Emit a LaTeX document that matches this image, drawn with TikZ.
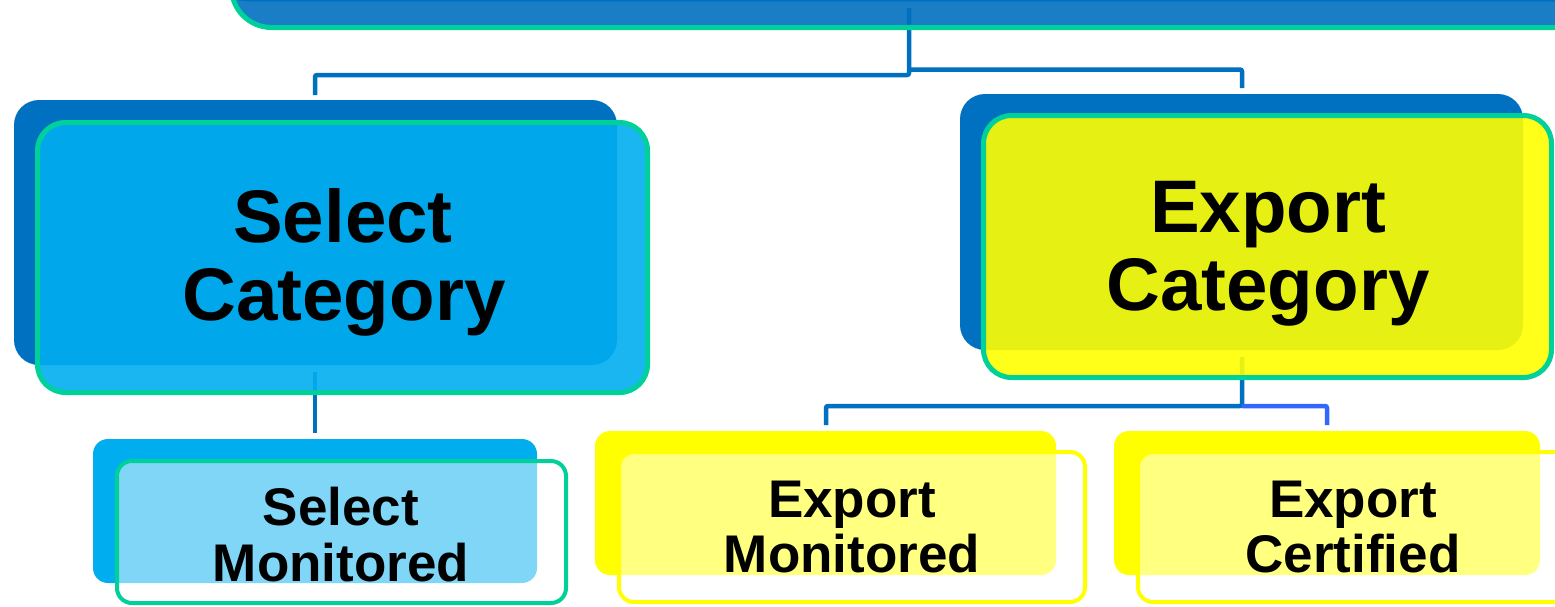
\documentclass[tikz,border=0pt]{standalone}
\usepackage{fontspec}
\setmainfont{Liberation Sans}
\definecolor{dblue}{HTML}{0070C0}
\definecolor{cyanc}{HTML}{00AEEF}
\definecolor{gborder}{RGB}{0,208,154}
\definecolor{yel}{HTML}{FFFF00}
\definecolor{bblue}{HTML}{3366FF}
\tikzset{
  box/.style={rectangle, inner sep=0pt, outer sep=0pt, anchor=north west},
  backbox/.style={box, fill=#1, draw=none},
  frontbox/.style={box, fill=#1, fill opacity=0.9},
  lightbox/.style={box, fill=white, fill opacity=0.5, line width=4pt},
  conn/.style={draw=dblue, line width=4.5pt, rounded corners=2pt},
  bigtxt/.style={anchor=base, font=\bfseries\fontsize{74.5}{78}\selectfont, text=black},
  smalltxt/.style={anchor=base, font=\bfseries\fontsize{53}{56}\selectfont, text=black},
}
\begin{document}
\begin{tikzpicture}[x=1pt,y=-1pt]
\useasboundingbox (0,0) rectangle (1555,606);
\clip (0,0) rectangle (1555,606);
% back boxes
\node[backbox=dblue, minimum width=1500pt, minimum height=301.5pt, rounded corners=40pt] (topb) at (208,-300) {};
\node[backbox=dblue, minimum width=603pt, minimum height=265pt, rounded corners=25pt] (scb) at (14,100) {};
\node[backbox=dblue, minimum width=563pt, minimum height=256pt, rounded corners=25pt] (ecb) at (960,94) {};
\node[backbox=cyanc, minimum width=444pt, minimum height=144pt, rounded corners=15pt] (smb) at (93,439) {};
\node[backbox=yel, minimum width=461pt, minimum height=144pt, rounded corners=15pt] (emb) at (595,431) {};
\node[backbox=yel, minimum width=426pt, minimum height=144pt, rounded corners=15pt] (ecfb) at (1114,431) {};
% connectors
\coordinate (j0) at (909,8);
\coordinate (jl) at (315,95);
\coordinate (jr) at (1242,88);
\coordinate (k0) at (315,372);
\coordinate (k1) at (315,433);
\coordinate (m0) at (1242,357);
\coordinate (ml) at (826,425);
\coordinate (mr) at (1327,425);
\draw[conn] (j0) -- (909,75) -- (315,75) -- (jl);
\draw[conn] (909,69.5) -- (1242,69.5) -- (jr);
\draw[conn] (k0) -- (k1);
\draw[conn] (m0) -- (1242,406) -- (826,406) -- (ml);
\draw[conn, draw=bblue] (1242,406) -- (1327,406) -- (mr);
% front boxes
\node[frontbox=dblue, draw=gborder, line width=5pt, minimum width=1500pt, minimum height=227.5pt, rounded corners=40pt] (top) at (231.5,-200) {};
\node[frontbox=cyanc, draw=gborder, line width=5pt, minimum width=610pt, minimum height=270pt, rounded corners=28pt] (sc) at (37.5,122.5) {};
\node[frontbox=yel, draw=gborder, line width=5pt, minimum width=568pt, minimum height=262pt, rounded corners=28pt] (ec) at (983.5,115.5) {};
\node[lightbox, draw=gborder, minimum width=449pt, minimum height=142pt, rounded corners=15pt] (sm) at (117,461) {};
\node[lightbox, draw=yel, minimum width=466pt, minimum height=150pt, rounded corners=15pt] (em) at (619,452) {};
\node[lightbox, draw=yel, minimum width=466pt, minimum height=150pt, rounded corners=15pt] (ecf) at (1138,452) {};
% texts
\node[bigtxt] (sct1) at (343,242) {Select};
\node[bigtxt] (sct2) at (344,320) {Category};
\node[bigtxt] (ect1) at (1268,232) {Export};
\node[bigtxt] (ect2) at (1268,310) {Category};
\node[smalltxt] (smt1) at (341,525) {Select};
\node[smalltxt] (smt2) at (341,581) {Monitored};
\node[smalltxt] (emt1) at (852,517) {Export};
\node[smalltxt] (emt2) at (852,572) {Monitored};
\node[smalltxt] (ecft1) at (1353,517) {Export};
\node[smalltxt] (ecft2) at (1353,572) {Certified};
\end{tikzpicture}
\end{document}
